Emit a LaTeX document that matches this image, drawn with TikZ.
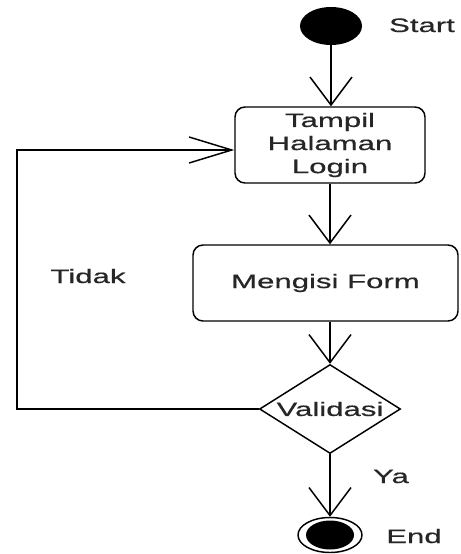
\documentclass[tikz,border=0pt]{standalone}
\usepackage{fontspec}
\newfontfamily\diagfont[FakeStretch=1.6,FakeBold=0.6]{Liberation Sans}
\usetikzlibrary{arrows.meta,shapes.geometric}

\begin{document}
\begin{tikzpicture}[x=0.75pt,y=-0.75pt,
  every node/.style={font=\diagfont\fontsize{14.6pt}{17.3pt}\selectfont, text=black!85},
  act/.style={draw, rounded corners=7.5pt, minimum height=57pt, line width=1.1pt},
  flow/.style={line width=1.1pt, -{Straight Barb[length=21pt,width=31.5pt]}},
  back/.style={line width=1.1pt, -{Straight Barb[length=32pt,width=19.5pt]}}]
\useasboundingbox (0,0) rectangle (461,554);

\node[ellipse, fill, minimum width=46.5pt, minimum height=28.5pt, inner sep=0] (start) at (331,26){};
\node[anchor=base] (lstart) at (422,32){Start};

\node[act, minimum width=142.5pt, align=center] (act1) at (330,145){Tampil\\Halaman\\Login};
\node[act, minimum width=198.75pt] (act2) at (325.5,283){Mengisi Form};

\node[diamond, draw, line width=1.1pt, minimum width=105.75pt, minimum height=66.75pt, inner sep=0, label=center:Validasi] (dec1) at (330,409){};

\node[ellipse, draw, line width=1.1pt, minimum width=48pt, minimum height=26.25pt, inner sep=0] (fin) at (330,535){};
\node[ellipse, fill, minimum width=36pt, minimum height=21.75pt, inner sep=0] (fin0) at (fin){};
\node[anchor=base] (lfin) at (414,543){End};

\node[anchor=base] (lya) at (391,483){Ya};
\node[anchor=base] (ltidak) at (88,283){Tidak};

\coordinate (bl) at (17,409);
\coordinate (tl) at (17,150);

\draw[flow](start) -- (start |- act1.north);
\draw[flow](act1.south) -- (act1.south |- act2.north);
\draw[flow](act2.south -| dec1.north) -- (dec1.north);
\draw[flow](dec1.south) -- (fin.north);
\draw[back](dec1.west) -- (bl) -- (tl) -- (tl -| act1.west);

\end{tikzpicture}
\end{document}
